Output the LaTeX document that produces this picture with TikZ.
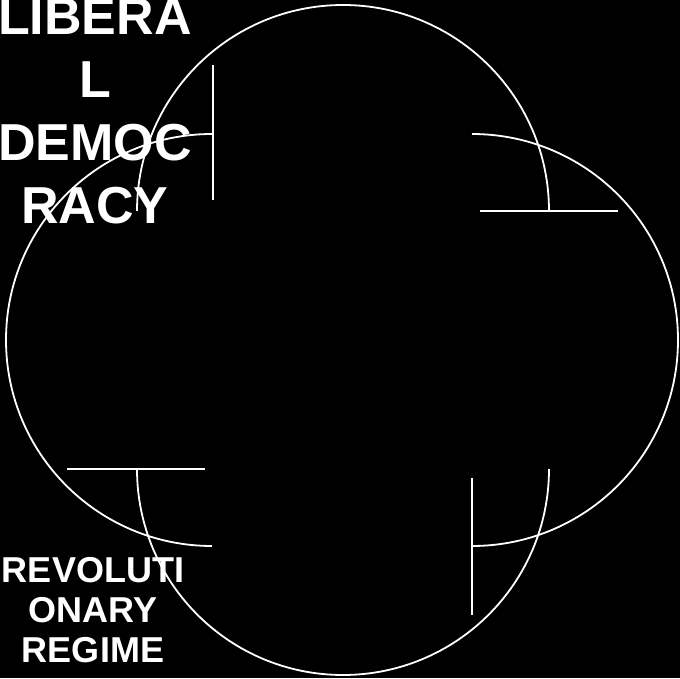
\documentclass[tikz,border=0pt]{standalone}
\usepackage{fontspec}
\setmainfont{Liberation Sans}
\begin{document}
\begin{tikzpicture}[x=1pt,y=1pt,
  arcline/.style={draw=white,line width=1.8pt},
  barline/.style={draw=white,line width=1.8pt},
  bigtext/.style={text=white,font=\bfseries\fontsize{52}{63}\selectfont,align=center,inner sep=0pt},
  smalltext/.style={text=white,font=\bfseries\fontsize{36}{40}\selectfont,align=center,inner sep=0pt}]
\fill[black] (0,0) rectangle (680,678);
\useasboundingbox (0,0) rectangle (680,678);
% arc ends
\coordinate (topS) at (137,467);
\coordinate (topE) at (549,467);
\coordinate (rgtS) at (472,544);
\coordinate (rgtE) at (472,132);
\coordinate (botS) at (549,209);
\coordinate (botE) at (137,209);
\coordinate (lftS) at (212,132);
\coordinate (lftE) at (212,544);
% bar ends
\coordinate (b1a) at (480,467); \coordinate (b1b) at (618,467);
\coordinate (b2a) at (472,200); \coordinate (b2b) at (472,63);
\coordinate (b3a) at (67,209);  \coordinate (b3b) at (205,209);
\coordinate (b4a) at (213,613); \coordinate (b4b) at (213,478);
% arcs
\draw[arcline] (topS) arc[start angle=180,end angle=0,radius=206];
\draw[arcline] (rgtS) arc[start angle=90,end angle=-90,radius=206];
\draw[arcline] (botS) arc[start angle=0,end angle=-180,radius=206];
\draw[arcline] (lftS) arc[start angle=270,end angle=90,radius=206];
% bars
\draw[barline] (b1a) -- (b1b);
\draw[barline] (b2a) -- (b2b);
\draw[barline] (b3a) -- (b3b);
\draw[barline] (b4a) -- (b4b);
% labels
\node[bigtext,anchor=base] (lib) at (95,454) {LIBERA\\L\\DEMOC\\RACY};
\node[smalltext,anchor=base] (rev) at (93,16) {REVOLUTI\\ONARY\\REGIME};
\end{tikzpicture}
\end{document}
